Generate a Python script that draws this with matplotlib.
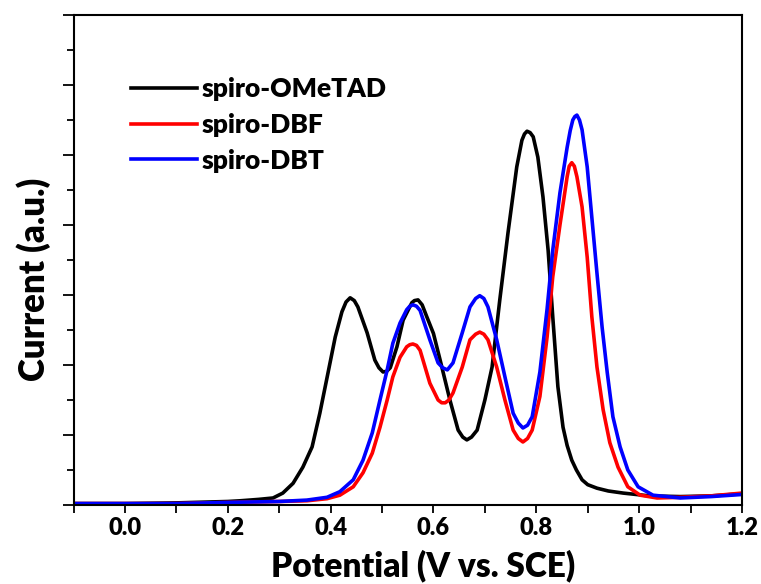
import matplotlib
matplotlib.use("Agg")
import matplotlib.pyplot as plt
from matplotlib.ticker import MultipleLocator, NullFormatter

plt.rcParams['font.family'] = ['Lato', 'DejaVu Sans']
plt.rcParams['font.weight'] = 'heavy'

# values (potential in V, current in arbitrary units)
ometad_x = [-0.10, 0.00, 0.10, 0.15, 0.20, 0.224, 0.26, 0.288, 0.307, 0.327, 0.346,
            0.364, 0.379, 0.395, 0.409, 0.422, 0.430, 0.438, 0.446, 0.453, 0.471,
            0.486, 0.494, 0.502, 0.509, 0.516, 0.529, 0.541, 0.558, 0.563, 0.570,
            0.578, 0.587, 0.600, 0.613, 0.632, 0.648, 0.657, 0.665, 0.674, 0.685,
            0.700, 0.714, 0.729, 0.745, 0.762, 0.772, 0.777, 0.782, 0.788, 0.794,
            0.803, 0.813, 0.823, 0.832, 0.842, 0.852, 0.860, 0.869, 0.878, 0.889,
            0.900, 0.918, 0.940, 0.969, 1.02, 1.08, 1.14, 1.20]
ometad_y = [0.02, 0.02, 0.03, 0.04, 0.05, 0.06, 0.08, 0.10, 0.17, 0.31, 0.54,
            0.83, 1.31, 1.89, 2.40, 2.76, 2.90, 2.96, 2.92, 2.83, 2.46,
            2.07, 1.96, 1.90, 1.91, 1.96, 2.26, 2.64, 2.89, 2.92, 2.93,
            2.86, 2.69, 2.45, 2.07, 1.50, 1.07, 0.97, 0.93, 0.97, 1.07,
            1.50, 1.97, 2.93, 3.89, 4.83, 5.21, 5.30, 5.34, 5.32, 5.26,
            4.97, 4.40, 3.64, 2.69, 1.69, 1.11, 0.85, 0.64, 0.50, 0.36,
            0.29, 0.24, 0.20, 0.17, 0.13, 0.12, 0.13, 0.16]

dbf_x = [-0.10, 0.10, 0.224, 0.30, 0.354, 0.393, 0.418, 0.444, 0.463, 0.481,
         0.496, 0.510, 0.521, 0.535, 0.548, 0.554, 0.560, 0.567, 0.574, 0.593,
         0.609, 0.616, 0.623, 0.630, 0.638, 0.656, 0.671, 0.682, 0.690, 0.698,
         0.706, 0.723, 0.739, 0.755, 0.765, 0.774, 0.783, 0.792, 0.807, 0.821,
         0.832, 0.846, 0.860, 0.864, 0.869, 0.874, 0.879, 0.889, 0.899, 0.908,
         0.918, 0.930, 0.943, 0.959, 0.978, 1.002, 1.035, 1.08, 1.14, 1.20]
dbf_y = [0.02, 0.02, 0.04, 0.05, 0.06, 0.09, 0.14, 0.26, 0.46, 0.74,
         1.11, 1.50, 1.83, 2.11, 2.26, 2.29, 2.30, 2.28, 2.21, 1.74,
         1.50, 1.46, 1.46, 1.50, 1.60, 1.97, 2.36, 2.44, 2.47, 2.44,
         2.36, 1.97, 1.50, 1.07, 0.95, 0.90, 0.95, 1.07, 1.55, 2.40,
         3.26, 4.00, 4.69, 4.84, 4.89, 4.84, 4.69, 4.26, 3.54, 2.69,
         1.97, 1.36, 0.89, 0.54, 0.26, 0.14, 0.10, 0.11, 0.13, 0.17]

dbt_x = [-0.10, 0.10, 0.224, 0.30, 0.354, 0.393, 0.418, 0.444, 0.463, 0.481,
         0.496, 0.510, 0.521, 0.535, 0.548, 0.554, 0.560, 0.567, 0.574, 0.593,
         0.609, 0.618, 0.627, 0.638, 0.656, 0.671, 0.682, 0.690, 0.698, 0.706,
         0.723, 0.739, 0.755, 0.765, 0.774, 0.783, 0.792, 0.807, 0.821, 0.832,
         0.846, 0.860, 0.866, 0.871, 0.875, 0.879, 0.884, 0.889, 0.899, 0.908,
         0.918, 0.928, 0.938, 0.949, 0.963, 0.978, 0.998, 1.027, 1.08, 1.14, 1.20]
dbt_y = [0.02, 0.02, 0.04, 0.05, 0.07, 0.11, 0.19, 0.36, 0.64, 1.03,
         1.50, 1.93, 2.31, 2.60, 2.79, 2.84, 2.86, 2.84, 2.78, 2.36,
         2.03, 1.96, 1.93, 2.03, 2.46, 2.83, 2.95, 2.99, 2.95, 2.83,
         2.36, 1.83, 1.31, 1.17, 1.10, 1.14, 1.26, 1.90, 2.80, 3.64,
         4.46, 5.11, 5.35, 5.50, 5.55, 5.57, 5.50, 5.36, 4.83, 4.11,
         3.31, 2.54, 1.89, 1.26, 0.83, 0.50, 0.26, 0.14, 0.10, 0.12, 0.15]

labels = ['spiro-OMeTAD', 'spiro-DBF', 'spiro-DBT']
colors = ['black', 'red', 'blue']

fig = plt.figure(figsize=(7.61, 5.84), dpi=100)
ax = fig.add_axes([0.0966, 0.1353, 0.8784, 0.8390])

for xs, ys, lab, c in zip([ometad_x, dbf_x, dbt_x], [ometad_y, dbf_y, dbt_y], labels, colors):
    ax.plot(xs, ys, color=c, lw=2.6, label=lab, solid_joinstyle='round')

ax.set_xlim(-0.1, 1.2)
ax.set_ylim(0, 7)
ax.xaxis.set_minor_locator(MultipleLocator(0.1))
ax.yaxis.set_major_locator(MultipleLocator(1))
ax.yaxis.set_minor_locator(MultipleLocator(0.5))
ax.yaxis.set_major_formatter(NullFormatter())
ax.set_xticks([0.0, 0.2, 0.4, 0.6, 0.8, 1.0, 1.2])
ax.set_xticklabels(['0.0', '0.2', '0.4', '0.6', '0.8', '1.0', '1.2'])
ax.tick_params(axis='x', which='both', direction='out', length=6, width=1.3, labelsize=17, pad=3)
ax.tick_params(axis='y', which='major', direction='out', length=8, width=1.3)
ax.tick_params(axis='y', which='minor', direction='out', length=5, width=1.3)
for s in ax.spines.values():
    s.set_linewidth(1.5)

ax.set_xlabel('Potential (V vs. SCE)', fontsize=24, fontweight='heavy')
ax.set_ylabel('Current (a.u.)', fontsize=25, fontweight='heavy')
ax.xaxis.set_label_coords(0.523, -0.09)
ax.yaxis.set_label_coords(-0.033, 0.461)

ax.legend(loc='upper left', bbox_to_anchor=(0.05, 0.922), frameon=False,
          prop={'size': 19, 'weight': 'heavy'}, handlelength=2.5, handletextpad=0.2,
          labelspacing=0.45)

fig.savefig('out.png', dpi=100)
